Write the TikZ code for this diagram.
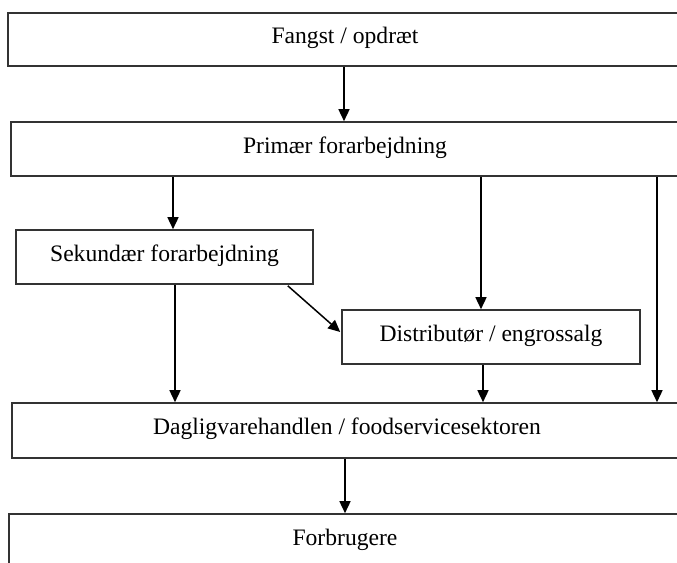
\documentclass[tikz,border=0pt]{standalone}
\usepackage{fontspec}
\setmainfont{Liberation Serif}
\usetikzlibrary{arrows.meta,calc}
\begin{document}
\begin{tikzpicture}[x=1pt,y=-1pt,
  box/.style={draw=black!80, line width=1.6pt, fill=white, inner sep=0pt,
    text height=16pt, text depth=8pt, font=\fontsize{23.6}{28}\selectfont},
  arr/.style={draw=black, line width=1.5pt, -{Triangle[length=12pt,width=11pt]}}]
\clip (0,0) rectangle (677,562);
\fill[white] (0,0) rectangle (677,562);
\node[box, minimum width=674pt, minimum height=53pt] (f) at (345,39.5) {Fangst / opdræt};
\node[box, minimum width=668pt, minimum height=54pt] (p) at (345,149) {Primær forarbejdning};
\node[box, minimum width=297pt, minimum height=54pt] (s) at (164.5,257) {Sekundær forarbejdning};
\node[box, minimum width=298pt, minimum height=54pt] (d) at (491,337) {Distributør / engrossalg};
\node[box, minimum width=670pt, minimum height=55pt] (g) at (347,430.5) {Dagligvarehandlen / foodservicesektoren};
\node[box, minimum width=672pt, minimum height=54pt] (c) at (345,541) {Forbrugere};
\coordinate (x1) at (344,0);
\coordinate (x2) at (173,0);
\coordinate (x3) at (481,0);
\coordinate (x4) at (657,0);
\coordinate (x5) at (175,0);
\coordinate (x6) at (483,0);
\coordinate (x7) at (345,0);
\draw[arr] (f.south -| x1) -- (p.north -| x1);
\draw[arr] (p.south -| x2) -- (s.north -| x2);
\draw[arr] (p.south -| x3) -- (d.north -| x3);
\draw[arr] (p.south -| x4) -- (g.north -| x4);
\draw[arr] (s.south -| x5) -- (g.north -| x5);
\draw[arr] ($(s.south east)+(-26,1)$) -- ($(d.west)+(-1,-5)$);
\draw[arr] (d.south -| x6) -- (g.north -| x6);
\draw[arr] (g.south -| x7) -- (c.north -| x7);
\end{tikzpicture}
\end{document}
